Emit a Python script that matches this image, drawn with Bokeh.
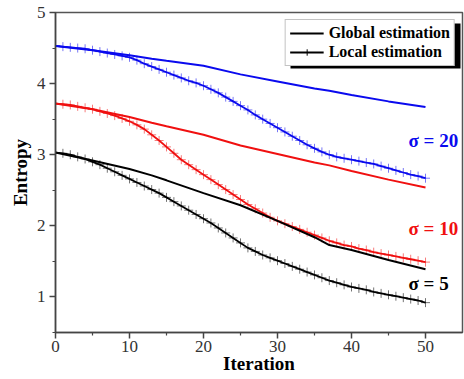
from bokeh.plotting import figure
from bokeh.models import FixedTicker, Legend, LegendItem, Label
from bokeh.embed import file_html
from bokeh.resources import INLINE

# ---------------- data ----------------
iterations = list(range(51))
glob_iter = [0, 5, 10, 13, 15, 20, 25, 30, 35, 37, 40, 45, 50]

blue_global = [4.53, 4.47, 4.40, 4.35, 4.32, 4.25, 4.13, 4.03, 3.93, 3.90, 3.84, 3.75, 3.67]
red_global = [3.72, 3.64, 3.53, 3.45, 3.40, 3.28, 3.13, 3.01, 2.89, 2.85, 2.77, 2.65, 2.54]
black_global = [3.03, 2.92, 2.80, 2.71, 2.64, 2.46, 2.29, 2.07, 1.84, 1.73, 1.66, 1.52, 1.39]

blue_local = [4.53, 4.52, 4.51, 4.50, 4.49, 4.47, 4.45, 4.43, 4.41, 4.39,
              4.37, 4.33, 4.28, 4.24, 4.20, 4.16, 4.12, 4.08, 4.04, 4.01,
              3.97, 3.92, 3.87, 3.81, 3.75, 3.69, 3.63, 3.56, 3.50, 3.44,
              3.38, 3.32, 3.26, 3.20, 3.14, 3.09, 3.04, 3.00, 2.97, 2.95,
              2.93, 2.91, 2.89, 2.87, 2.84, 2.81, 2.78, 2.75, 2.72, 2.70,
              2.67]
red_local = [3.72, 3.71, 3.70, 3.68, 3.66, 3.64, 3.61, 3.58, 3.55, 3.51,
             3.47, 3.42, 3.36, 3.28, 3.20, 3.11, 3.02, 2.93, 2.86, 2.79,
             2.72, 2.65, 2.58, 2.51, 2.44, 2.37, 2.30, 2.24, 2.18, 2.12,
             2.07, 2.03, 1.99, 1.95, 1.91, 1.87, 1.83, 1.79, 1.76, 1.73,
             1.71, 1.68, 1.66, 1.63, 1.61, 1.59, 1.57, 1.55, 1.53, 1.51,
             1.49]
black_local = [3.03, 3.02, 3.00, 2.97, 2.94, 2.90, 2.86, 2.81, 2.76, 2.71,
               2.66, 2.61, 2.56, 2.51, 2.46, 2.40, 2.34, 2.28, 2.22, 2.16,
               2.10, 2.04, 1.97, 1.90, 1.83, 1.76, 1.69, 1.64, 1.59, 1.55,
               1.51, 1.47, 1.43, 1.39, 1.35, 1.31, 1.27, 1.23, 1.20, 1.17,
               1.14, 1.12, 1.10, 1.07, 1.05, 1.03, 1.01, 0.99, 0.97, 0.95,
               0.92]

x_ticks = [0, 10, 20, 30, 40, 50]
x_minor = [5, 15, 25, 35, 45]
y_ticks = [1, 2, 3, 4, 5]
y_minor = [0.5, 1.5, 2.5, 3.5, 4.5]

series_labels = ["σ = 20", "σ = 10", "σ = 5"]
legend_labels = ["Global estimation", "Local estimation"]

# ---------------- style ----------------
BLUE = "#0a0aee"
RED = "#f01010"
BLACK = "#000000"
SERIF = "Liberation Serif"

X0, X1 = 0, 55
Y0, Y1 = 0.5, 5
FRAME_L, FRAME_T, FRAME_W, FRAME_H = 55, 12, 407, 320  # canvas px


def dx(px):
    return X0 + (px - FRAME_L) * (X1 - X0) / FRAME_W


def dy(py):
    return Y1 - (py - FRAME_T) * (Y1 - Y0) / FRAME_H


p = figure(width=464, height=379, x_range=(X0, X1), y_range=(Y0, Y1),
           output_backend="svg", toolbar_location=None,
           min_border_left=55, min_border_right=2,
           min_border_top=12, min_border_bottom=47)

p.xgrid.visible = False
p.ygrid.visible = False
p.outline_line_color = "#555555"
p.outline_line_width = 1.5
p.background_fill_color = "white"
p.border_fill_color = "white"

p.xaxis.ticker = FixedTicker(ticks=x_ticks, minor_ticks=x_minor)
p.yaxis.ticker = FixedTicker(ticks=y_ticks, minor_ticks=y_minor)
for ax in (p.xaxis, p.yaxis):
    ax.axis_line_color = "#444444"
    ax.axis_line_width = 1.5
    ax.major_tick_line_color = "#444444"
    ax.minor_tick_line_color = "#444444"
    ax.major_tick_line_width = 1.5
    ax.minor_tick_line_width = 1.2
    ax.major_tick_in = 0
    ax.major_tick_out = 6
    ax.minor_tick_in = 0
    ax.minor_tick_out = 3
    ax.major_label_text_font = SERIF
    ax.major_label_text_font_size = "17px"
    ax.major_label_text_color = "#333333"
    ax.axis_label_text_font = SERIF
    ax.axis_label_text_font_style = "bold"
    ax.axis_label_text_font_size = "19px"
    ax.axis_label_text_color = "black"
p.xaxis.major_label_standoff = 2
p.yaxis.major_label_standoff = 4
p.xaxis.axis_label = "Iteration"
p.xaxis.axis_label_standoff = -2
p.yaxis.axis_label = "Entropy"
p.yaxis.axis_label_standoff = 3

# legend shadow (behind the legend box)
p.quad(left=dx(290), right=dx(460), top=dy(23), bottom=dy(68),
       fill_color="black", line_color=None)

# curves
for gvals, lvals, col in ((blue_global, blue_local, BLUE),
                          (red_global, red_local, RED),
                          (black_global, black_local, BLACK)):
    p.line(glob_iter, gvals, line_color=col, line_width=2)
    p.line(iterations, lvals, line_color=col, line_width=1.8)
    p.scatter(iterations, lvals, marker="cross", size=9,
              line_color=col, line_alpha=0.55, line_width=1)

# legend proxies (black, no visible data)
nan = float("nan")
lg_line = p.line(x=[nan], y=[nan], line_color="black", line_width=2)
ll_line = p.line(x=[nan], y=[nan], line_color="black", line_width=2)
ll_cross = p.scatter(x=[nan], y=[nan], marker="cross", size=11,
                     line_color="black", line_width=1)
legend = Legend(items=[LegendItem(label=legend_labels[0], renderers=[lg_line]),
                       LegendItem(label=legend_labels[1], renderers=[ll_line, ll_cross])],
                location="top_right", margin=7, padding=4, spacing=1,
                glyph_width=34, glyph_height=16, label_height=16, label_standoff=5,
                label_text_font=SERIF, label_text_font_style="bold",
                label_text_font_size="16px", label_text_color="black",
                border_line_color="#888888", border_line_width=1,
                background_fill_color="white", background_fill_alpha=1)
p.add_layout(legend)

# series annotations
for txt, col, py in zip(series_labels, (BLUE, RED, BLACK), (140, 228, 283)):
    p.add_layout(Label(x=dx(408), y=dy(py), text=txt, text_color=col,
                       text_font=SERIF, text_font_style="bold",
                       text_font_size="19px", text_baseline="middle"))

open("out.html", "w").write(file_html(p, INLINE))
